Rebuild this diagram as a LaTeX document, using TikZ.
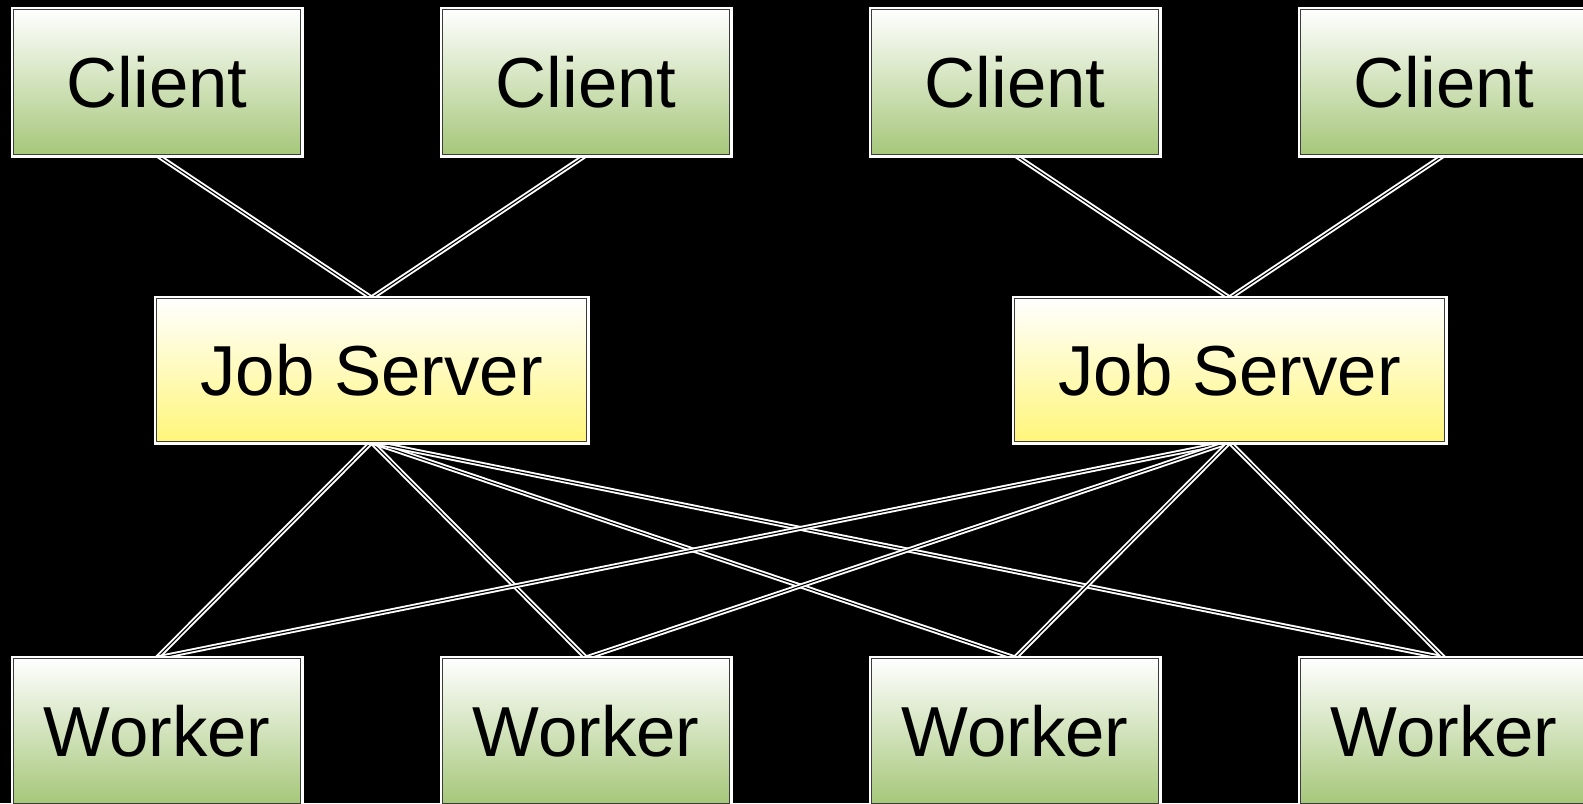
\documentclass[tikz,border=0pt]{standalone}
\usepackage{fontspec}
\setmainfont{Liberation Sans}
\usetikzlibrary{backgrounds}

\definecolor{boxgreen}{RGB}{166,199,122}
\definecolor{boxyellow}{RGB}{255,246,122}
\definecolor{boxedge}{RGB}{60,60,60}

\tikzset{
  box/.style={draw=boxedge, line width=0.6pt,
    preaction={draw=white, line width=3pt},
    inner sep=0pt, text=black, font=\fontsize{35.4}{42}\selectfont},
  greenbox/.style={box, top color=white, bottom color=boxgreen,
    minimum width=143.5pt, minimum height=72.5pt},
  yellowbox/.style={box, top color=white, bottom color=boxyellow,
    minimum width=215pt, minimum height=71.5pt},
  link/.style={draw=white, double=black, line width=0.95pt, double distance=0.55pt}
}

\begin{document}
\begin{tikzpicture}[x=0.5pt, y=-0.5pt]
        \useasboundingbox (0,0) rectangle (1583,803);
        \clip (0,0) rectangle (1583,803);

        % Clients along the top
        \node[greenbox] (client1) at (157,82) {Client};
        \node[greenbox] (client2) at (586,82) {Client};
        \node[greenbox] (client3) at (1015,82) {Client};
        \node[greenbox] (client4) at (1444,82) {Client};

        % The two job servers
        \node[yellowbox] (server1) at (371.5,370) {Job Server};
        \node[yellowbox] (server2) at (1229.5,370) {Job Server};

        % Workers along the bottom
        \node[greenbox] (worker1) at (157,731) {Worker};
        \node[greenbox] (worker2) at (586,731) {Worker};
        \node[greenbox] (worker3) at (1015,731) {Worker};
        \node[greenbox] (worker4) at (1444,731) {Worker};

        \begin{scope}[on background layer]
        % Black background
        \fill[black] (0,0) rectangle (1583,803);

        % Clients to their job server
        \draw[link] (client1.south) -- (server1.north);
        \draw[link] (client2.south) -- (server1.north);
        \draw[link] (client3.south) -- (server2.north);
        \draw[link] (client4.south) -- (server2.north);

        % Every job server to every worker
        \draw[link] (server1.south) -- (worker1.north);
        \draw[link] (server1.south) -- (worker2.north);
        \draw[link] (server1.south) -- (worker3.north);
        \draw[link] (server1.south) -- (worker4.north);
        \draw[link] (server2.south) -- (worker1.north);
        \draw[link] (server2.south) -- (worker2.north);
        \draw[link] (server2.south) -- (worker3.north);
        \draw[link] (server2.south) -- (worker4.north);
        \end{scope}
\end{tikzpicture}
\end{document}
